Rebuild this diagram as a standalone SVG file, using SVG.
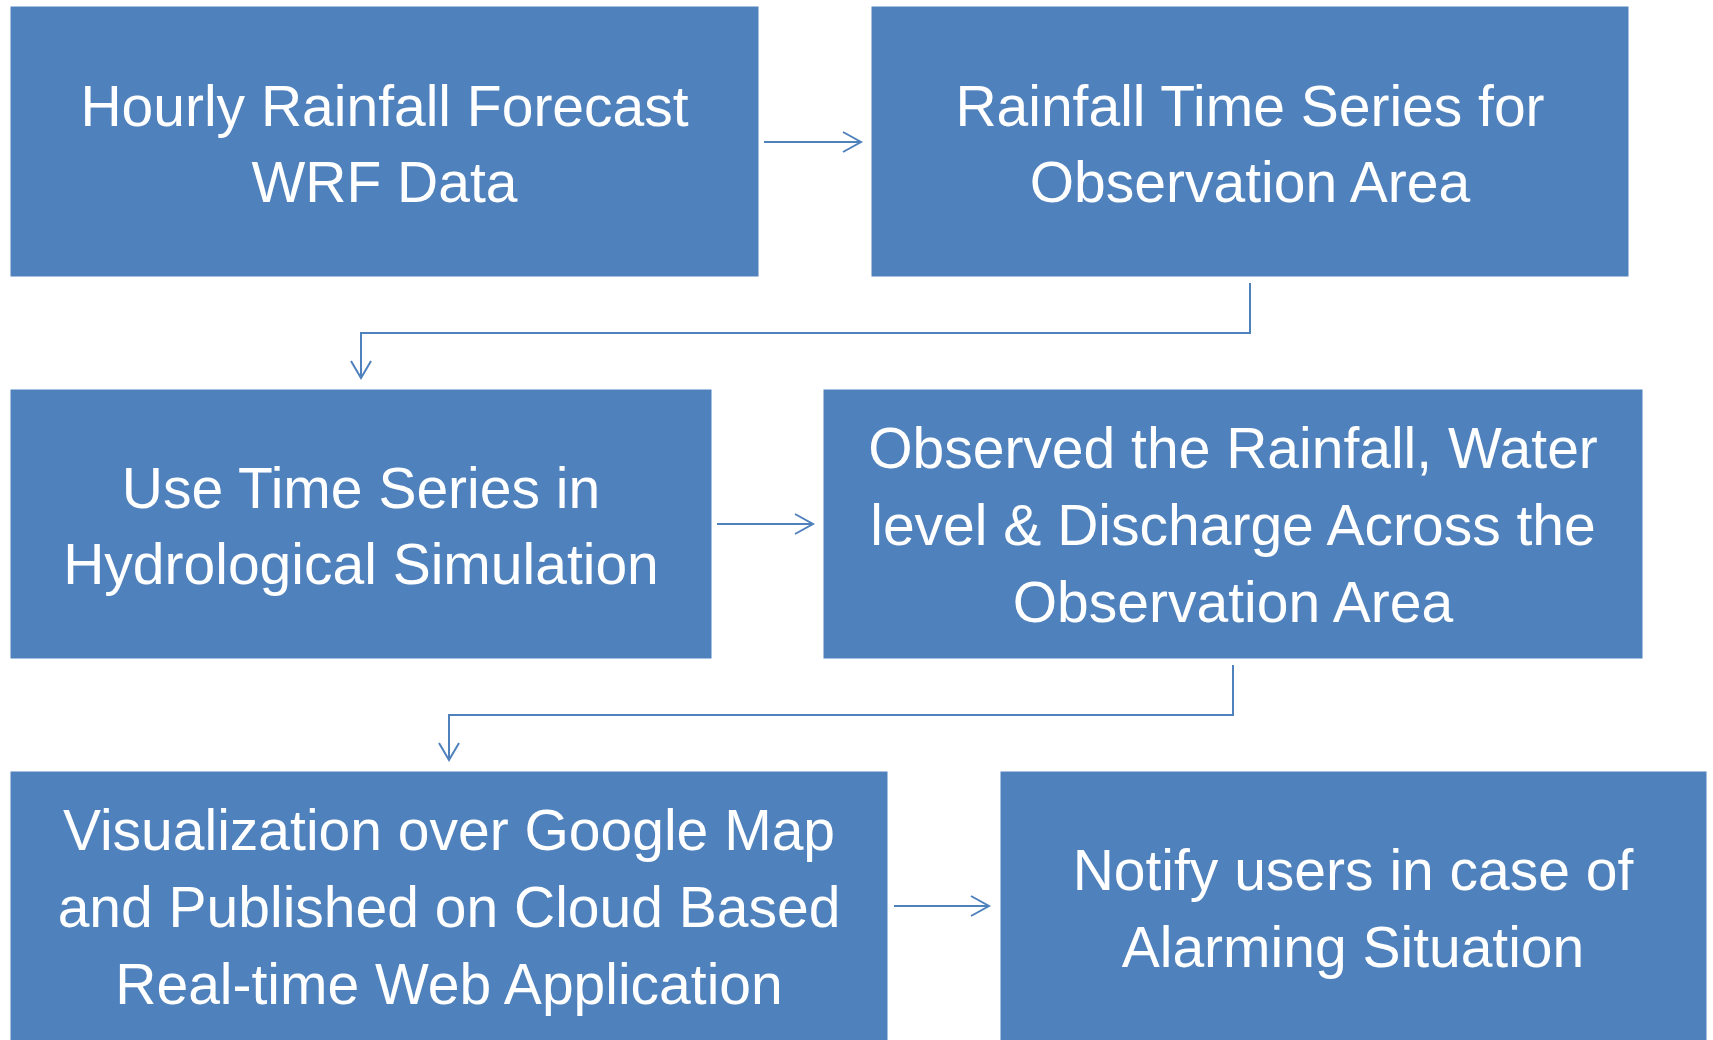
<svg xmlns="http://www.w3.org/2000/svg" width="1713" height="1040" viewBox="0 0 1713 1040">
<style>
.box{fill:#4F81BD;stroke:#FFFFFF;stroke-width:1}
.t{font-family:"Liberation Sans",Arial,sans-serif;font-size:57px;fill:#FFFFFF;text-anchor:middle}
.c{fill:none;stroke:#4F81BD;stroke-width:2}
</style>
<rect width="1713" height="1040" fill="#FFFFFF"/>
<g id="n1"><rect class="box" x="10" y="6" width="749" height="271"/>
<text class="t" x="384.5" y="126">Hourly Rainfall Forecast</text>
<text class="t" x="384.5" y="202">WRF Data</text></g>
<g id="n2"><rect class="box" x="871" y="6" width="758" height="271"/>
<text class="t" x="1250" y="126">Rainfall Time Series for</text>
<text class="t" x="1250" y="202">Observation Area</text></g>
<g id="n3"><rect class="box" x="10" y="389" width="702" height="270"/>
<text class="t" x="361" y="508">Use Time Series in</text>
<text class="t" x="361" y="584">Hydrological Simulation</text></g>
<g id="n4"><rect class="box" x="823" y="389" width="820" height="270"/>
<text class="t" x="1233" y="468">Observed the Rainfall, Water</text>
<text class="t" x="1233" y="545">level &amp; Discharge Across the</text>
<text class="t" x="1233" y="622">Observation Area</text></g>
<g id="n5"><rect class="box" x="10" y="771" width="878" height="275"/>
<text class="t" x="449" y="850">Visualization over Google Map</text>
<text class="t" x="449" y="927">and Published on Cloud Based</text>
<text class="t" x="449" y="1004">Real-time Web Application</text></g>
<g id="n6"><rect class="box" x="1000" y="771" width="707" height="275"/>
<text class="t" x="1353" y="890">Notify users in case of</text>
<text class="t" x="1353" y="967">Alarming Situation</text></g>
<g id="connectors">
<path class="c" d="M764 142H861M843 132L861 142L843 152"/>
<path class="c" d="M1250 283V333H361V378M351 361L361 378L371 361"/>
<path class="c" d="M717 524H813M795 514L813 524L795 534"/>
<path class="c" d="M1233 665V715H449V760M439 743L449 760L459 743"/>
<path class="c" d="M894 906H989M971 896L989 906L971 916"/>
</g>
</svg>
